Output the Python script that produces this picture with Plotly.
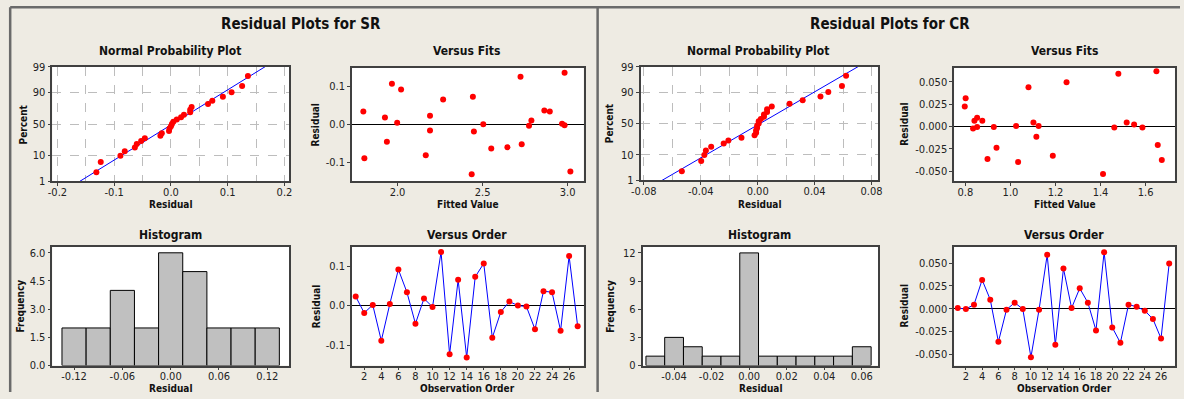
import plotly.graph_objects as go
from statistics import NormalDist, mean, stdev

nd = NormalDist()

# ---------------- data ----------------
sr_resid = [0.0229, -0.0186, 0.0017, -0.0890, 0.0042, 0.0915, 0.0339, -0.0460, 0.0178, -0.0034,
            0.1356, -0.1237, 0.0653, -0.1314, 0.0729, 0.1068, -0.0814, -0.0161, 0.0102, 0.0000,
            -0.0025, -0.0602, 0.0364, 0.0339, -0.0636, 0.1254, -0.0525]
sr_fits = [2.191, 2.449, 2.967, 1.805, 1.998, 2.021, 2.895, 1.9375, 1.926, 2.773,
           2.982, 3.016, 2.268, 2.436, 2.443, 1.967, 2.166, 2.191, 2.787, 2.504,
           2.982, 2.646, 2.863, 1.799, 2.551, 2.723, 2.730]
sr_hist_mid = [-0.12, -0.09, -0.06, -0.03, 0.00, 0.03, 0.06, 0.09, 0.12]
sr_hist_count = [2, 2, 4, 2, 6, 5, 2, 2, 2]

cr_resid = [0.0007, -0.0004, 0.0044, 0.0316, 0.0099, -0.0364, -0.0011, 0.0066, -0.0004, -0.0533,
            -0.0011, 0.0592, -0.0397, 0.0441, 0.0007, 0.0224, 0.0066, -0.0239, 0.0621, -0.0206,
            -0.0375, 0.0044, 0.0022, -0.0022, -0.0114, -0.0327, 0.0496]
cr_fits = [1.025, 0.852, 1.102, 0.801, 0.852, 0.898, 1.461, 0.840, 0.926, 1.411,
           1.586, 1.479, 1.034, 1.080, 1.125, 0.797, 0.875, 0.938, 1.648, 1.654,
           1.672, 1.516, 1.549, 0.834, 1.115, 1.188, 1.249]
cr_hist_mid = [-0.05, -0.04, -0.03, -0.02, -0.01, 0.00, 0.01, 0.02, 0.03, 0.04, 0.05, 0.06]
cr_hist_count = [1, 3, 2, 1, 1, 12, 1, 1, 1, 1, 1, 2]

pct_ticks = [1, 10, 50, 90, 99]
order_ticks = list(range(2, 27, 2))

sr_npp_xticks = [-0.2, -0.1, 0.0, 0.1, 0.2]
sr_npp_xtext = ["-0.2", "-0.1", "0.0", "0.1", "0.2"]
sr_npp_xgrid = [-0.15, -0.05, 0.05, 0.15]
sr_res_ticks = [-0.1, 0.0, 0.1]
sr_res_text = ["-0.1", "0.0", "0.1"]
sr_fit_ticks = [2.0, 2.5, 3.0]
sr_fit_text = ["2.0", "2.5", "3.0"]
sr_hist_xticks = [-0.12, -0.06, 0.0, 0.06, 0.12]
sr_hist_xtext = ["-0.12", "-0.06", "0.00", "0.06", "0.12"]
sr_hist_yticks = [0, 1.5, 3.0, 4.5, 6.0]
sr_hist_ytext = ["0.0", "1.5", "3.0", "4.5", "6.0"]

cr_npp_xticks = [-0.08, -0.04, 0.0, 0.04, 0.08]
cr_npp_xtext = ["-0.08", "-0.04", "0.00", "0.04", "0.08"]
cr_npp_xgrid = [-0.06, -0.02, 0.02, 0.06]
cr_res_ticks = [-0.05, -0.025, 0.0, 0.025, 0.05]
cr_res_text = ["-0.050", "-0.025", "0.000", "0.025", "0.050"]
cr_fit_ticks = [0.8, 1.0, 1.2, 1.4, 1.6]
cr_fit_text = ["0.8", "1.0", "1.2", "1.4", "1.6"]
cr_hist_xticks = [-0.04, -0.02, 0.0, 0.02, 0.04, 0.06]
cr_hist_xtext = ["-0.04", "-0.02", "0.00", "0.02", "0.04", "0.06"]
cr_hist_yticks = [0, 3, 6, 9, 12]
cr_hist_ytext = ["0", "3", "6", "9", "12"]

# ---------------- style ----------------
W, H = 1184, 399
BG = "#EEEBE3"
FONT = "DejaVu Sans Condensed, DejaVu Sans, sans-serif"
TICKFONT = dict(family=FONT, size=11, color="#222222")
RED = "#FF0000"
BLUE = "#0000FF"
FRAME = "#404040"
GRID = "#BDBDBD"

# the page is shown with the default body margin, scaled into the window:
# map target pixel positions onto figure pixels
SX, OX = 1.0098, 7.7
SY, OY = (H + 16) / H, 8


def fx(px):
    return (px * SX - OX) / W


def fy(py):
    return 1 - (py * SY - OY) / H


boxes = {
    1: (51, 288, 68, 182), 2: (351, 583, 69, 182), 3: (51, 288, 247, 365), 4: (351, 583, 247, 365),
    5: (640, 878, 68, 181), 6: (954, 1175, 69, 182), 7: (642, 878, 247, 365), 8: (954, 1175, 247, 365),
}

fig = go.Figure()
layout = dict(width=W, height=H, autosize=False, margin=dict(l=0, r=0, t=0, b=0),
              paper_bgcolor=BG, plot_bgcolor="white", showlegend=False,
              font=dict(family=FONT), annotations=[], shapes=[])


def base_axis(k, is_x, rng, tickvals, ticktext):
    x0, x1, y0, y1 = boxes[k]
    dom = [fx(x0), fx(x1)] if is_x else [fy(y1), fy(y0)]
    ax = dict(domain=dom, range=rng, tickmode="array", tickvals=tickvals, ticktext=ticktext,
              showline=True, mirror=True, linecolor=FRAME, linewidth=1.5,
              ticks="outside", ticklen=3, tickcolor=FRAME, tickfont=TICKFONT,
              showgrid=False, zeroline=False,
              anchor=("y%d" % k) if is_x else ("x%d" % k))
    if is_x:
        ax["ticklabelstandoff"] = -3
    return ax


def axname(prefix, k):
    return prefix + ("" if k == 1 else str(k))


def ann(text, xpx, ypx, size, angle=0):
    layout["annotations"].append(dict(text=text, x=fx(xpx), y=fy(ypx), xref="paper", yref="paper",
                                      xanchor="center", yanchor="middle", showarrow=False,
                                      textangle=angle,
                                      font=dict(family=FONT, size=size, color="#111111", weight="bold")))


def add_panel(off, resid, fits, hmid, hcount, hwidth, npp_x, npp_xt, npp_grid,
              vf_rng_x, vf_rng_y, fit_ticks, fit_text, res_ticks, res_text,
              hx_rng, hy_rng, hxt, hxtt, hyt, hytt, vo_rng_y, npp_rng_x):
    n = len(resid)
    srt = sorted(resid)
    zs = [nd.inv_cdf((i + 1 - 0.3) / (n + 0.4)) for i in range(n)]
    mu, sd = mean(resid), stdev(resid)
    zline = [-2.6, 2.6]
    k1, k2, k3, k4 = off + 1, off + 2, off + 3, off + 4
    fig.add_trace(go.Scatter(x=[mu + sd * z for z in zline], y=zline, mode="lines",
                             line=dict(color=BLUE, width=1), xaxis=axname("x", k1), yaxis=axname("y", k1),
                             hoverinfo="skip"))
    fig.add_trace(go.Scatter(x=srt, y=zs, mode="markers", marker=dict(color=RED, size=6),
                             xaxis=axname("x", k1), yaxis=axname("y", k1)))
    fig.add_trace(go.Scatter(x=fits, y=resid, mode="markers", marker=dict(color=RED, size=6),
                             xaxis=axname("x", k2), yaxis=axname("y", k2)))
    fig.add_trace(go.Bar(x=hmid, y=hcount, width=hwidth, marker=dict(color="#C0C0C0",
                         line=dict(color="#000000", width=1)),
                         xaxis=axname("x", k3), yaxis=axname("y", k3)))
    obs = list(range(1, n + 1))
    fig.add_trace(go.Scatter(x=obs, y=resid, mode="lines+markers", line=dict(color=BLUE, width=1),
                             marker=dict(color=RED, size=6),
                             xaxis=axname("x", k4), yaxis=axname("y", k4)))

    zt = [nd.inv_cdf(p / 100) for p in pct_ticks]
    zr = [nd.inv_cdf(0.01), nd.inv_cdf(0.99)]
    ax = base_axis(k1, True, npp_rng_x, npp_x, npp_xt)
    ax.update(showgrid=True, gridcolor=GRID, griddash="dash", gridwidth=1,
              minor=dict(tickmode="array", tickvals=npp_grid, showgrid=True, gridcolor=GRID,
                         griddash="dash", gridwidth=1, ticks=""))
    layout[axname("xaxis", k1)] = ax
    ay = base_axis(k1, False, zr, zt, [str(p) for p in pct_ticks])
    ay.update(showgrid=True, gridcolor=GRID, griddash="dash", gridwidth=1)
    layout[axname("yaxis", k1)] = ay

    layout[axname("xaxis", k2)] = base_axis(k2, True, vf_rng_x, fit_ticks, fit_text)
    ay = base_axis(k2, False, vf_rng_y, res_ticks, res_text)
    ay.update(zeroline=True, zerolinecolor="#000000", zerolinewidth=1)
    layout[axname("yaxis", k2)] = ay

    layout[axname("xaxis", k3)] = base_axis(k3, True, hx_rng, hxt, hxtt)
    layout[axname("yaxis", k3)] = base_axis(k3, False, hy_rng, hyt, hytt)

    layout[axname("xaxis", k4)] = base_axis(k4, True, [0.56, 27.7], order_ticks,
                                            [str(t) for t in order_ticks])
    ay = base_axis(k4, False, vo_rng_y, res_ticks, res_text)
    ay.update(zeroline=True, zerolinecolor="#000000", zerolinewidth=1)
    layout[axname("yaxis", k4)] = ay

    # axis titles
    b = boxes
    cx = lambda k: (b[k][0] + b[k][1]) / 2
    cy = lambda k: (b[k][2] + b[k][3]) / 2
    res_off = 36 if off == 0 else 50
    ann("Residual", cx(k1), 205, 10)
    ann("Fitted Value", cx(k2), 205, 10)
    ann("Residual", cx(k3), 388, 10)
    ann("Observation Order", cx(k4), 388, 10)
    ann("Percent", b[k1][0] - (29 if off == 0 else 31), cy(k1), 10, -90)
    ann("Residual", b[k2][0] - res_off, cy(k2), 10, -90)
    ann("Frequency", b[k3][0] - 32, cy(k3), 10, -90)
    ann("Residual", b[k4][0] - res_off, cy(k4), 10, -90)


add_panel(0, sr_resid, sr_fits, sr_hist_mid, sr_hist_count, 0.03, sr_npp_xticks, sr_npp_xtext, sr_npp_xgrid,
          [1.732, 3.094], [-0.150, 0.149], sr_fit_ticks, sr_fit_text, sr_res_ticks, sr_res_text,
          [-0.147, 0.147], [0, 6.32], sr_hist_xticks, sr_hist_xtext, sr_hist_yticks, sr_hist_ytext,
          [-0.152, 0.149], [-0.209, 0.208])
add_panel(4, cr_resid, cr_fits, cr_hist_mid, cr_hist_count, 0.01, cr_npp_xticks, cr_npp_xtext, cr_npp_xgrid,
          [0.750, 1.730], [-0.0615, 0.066], cr_fit_ticks, cr_fit_text, cr_res_ticks, cr_res_text,
          [-0.0568, 0.0688], [0, 12.65], cr_hist_xticks, cr_hist_xtext, cr_hist_yticks, cr_hist_ytext,
          [-0.0625, 0.068], [-0.0823, 0.0847])

ann("Residual Plots for SR", 300, 26, 15)
ann("Residual Plots for CR", 890, 26, 15)
ann("Normal Probability Plot", 169, 52, 12)
ann("Versus Fits", 466, 52, 12)
ann("Histogram", 169, 235, 12)
ann("Versus Order", 466, 235, 12)
ann("Normal Probability Plot", 758, 52, 12)
ann("Versus Fits", 1064, 52, 12)
ann("Histogram", 759, 235, 12)
ann("Versus Order", 1064, 235, 12)

# panel borders (top and left edges sit at the very edge of the figure)
LINE = dict(color="#6A6A6A", width=2.5)
top = 1 - 1.2 / H
left = 1.2 / W
layout["shapes"] += [
    dict(type="line", xref="paper", yref="paper", x0=left, x1=1, y0=top, y1=top, line=LINE),
    dict(type="line", xref="paper", yref="paper", x0=left, x1=left, y0=top, y1=0, line=LINE),
    dict(type="line", xref="paper", yref="paper", x0=fx(597), x1=fx(597), y0=top, y1=0, line=LINE),
]

fig.update_layout(**layout)
fig.write_html("out.html")
